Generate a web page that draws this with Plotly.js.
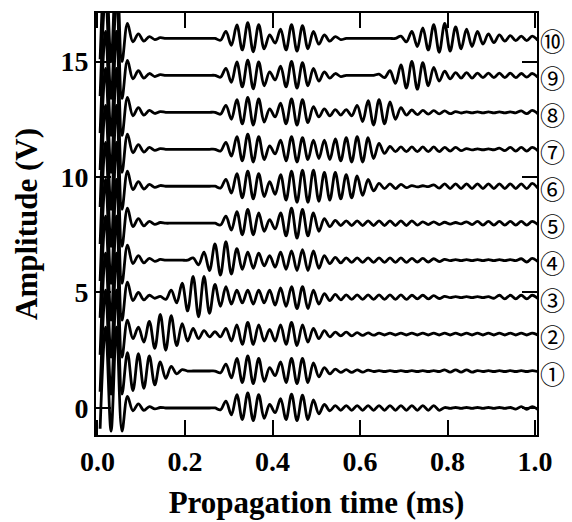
<!DOCTYPE html>
<html>
<head>
<meta charset="utf-8">
<script src="https://cdn.plot.ly/plotly-3.0.1.min.js"></script>
<style>html,body{margin:0;padding:0;background:#fff;}#chart{width:572px;height:522px;}</style>
</head>
<body>
<div id="chart"></div>
<script>
// sample times (ms) of the read-off extrema
var timeMs = [0.006,0.0185,0.031,0.0435,0.056,0.0685,0.081,0.0935,0.106,0.1185,0.131,0.1435,0.156,0.1685,0.181,0.1935,0.206,0.2185,0.231,0.2435,0.256,0.2685,0.281,0.2935,0.306,0.3185,0.331,0.3435,0.356,0.3685,0.381,0.3935,0.406,0.4185,0.431,0.4435,0.456,0.4685,0.481,0.4935,0.506,0.5185,0.531,0.5435,0.556,0.5685,0.581,0.5935,0.606,0.6185,0.631,0.6435,0.656,0.6685,0.681,0.6935,0.706,0.7185,0.731,0.7435,0.756,0.7685,0.781,0.7935,0.806,0.8185,0.831,0.8435,0.856,0.8685,0.881,0.8935,0.906,0.9185,0.931,0.9435,0.956,0.9685,0.981,0.9935,1.006];

// vertical offsets (V) of each waveform
var offsets = [0, 1.6, 3.2, 4.8, 6.4, 8.0, 9.6, 11.2, 12.8, 14.4, 16.0];
var labels = ['', '①', '②', '③', '④', '⑤', '⑥', '⑦', '⑧', '⑨', '⑩'];

// waveform amplitudes (V) relative to each baseline
var wave0 = [-0.9,3.5,-1.0,3.5,-1.0,0.5,-0.12,0.18,-0.1,0.06,-0.04,0.02,
  0,0,0,0,0,0,0,0,0,0,
  -0.08,0.3,-0.3,0.58,-0.5,0.65,-0.55,0.58,-0.45,0.15,-0.2,0.4,-0.5,0.6,-0.55,0.55,-0.5,0.35,-0.25,0.15,-0.12,0.1,-0.1,
  0.1,-0.1,0.1,-0.1,0.1,-0.1,0.1,-0.1,0.1,-0.1,0.1,-0.1,0.1,-0.1,0.1,-0.1,0.1,-0.1,
  0.02,-0.02,0.02,-0.02,0.02,-0.02,0.02,-0.02,0.02,-0.02,0.02,-0.02,0.02,
  -0.05,0.06,-0.06,0.06,-0.06];
var wave1 = [-0.9,3.5,-1.0,3.5,-1.0,
  0.8,-0.85,0.75,-0.75,0.65,-0.6,0.4,-0.32,0.2,-0.12,0.06,
  0,0,0,0,0,0,
  -0.08,0.3,-0.3,0.55,-0.5,0.65,-0.55,0.55,-0.45,0.15,-0.2,0.4,-0.5,0.55,-0.55,0.55,-0.5,0.35,-0.25,0.15,-0.12,0.08,-0.06,
  0.06,-0.06,0.05,-0.05,0.04,
  -0.02,0.02,-0.02,0.02,-0.02,0.02,-0.02,0.02,-0.02,0.02,-0.02,0.02,-0.02,
  0.05,-0.05,0.05,-0.05,0.05,-0.05,
  0.02,-0.02,0.02,-0.02,0.02,-0.02,0.02,-0.02,0.02,-0.02,0.02,-0.02];
var wave2 = [-0.9,3.5,-1.0,3.5,-1.0,
  0.6,-0.2,0.3,-0.35,0.55,-0.62,0.85,-0.7,0.8,-0.5,0.45,-0.3,0.25,-0.2,0.15,-0.12,0.1,-0.12,
  0.25,-0.3,0.4,-0.45,0.5,-0.45,0.4,-0.3,0.2,-0.3,0.4,-0.45,0.5,-0.5,0.4,-0.35,0.25,-0.2,0.15,-0.12,
  0.08,-0.08,0.08,-0.08,0.06,-0.06,0.05,-0.05,
  0.04,-0.04,0.04,-0.04,0.04,-0.04,0.04,-0.04,0.04,-0.04,0.04,-0.04,0.04,-0.04,0.04,
  -0.04,0.04,-0.04,0.04,-0.04,0.04,-0.04,0.04,-0.04,0.04,-0.04,0.04,-0.04,0.04,-0.04];
var wave3 = [-0.9,3.5,-1.0,3.5,-1.0,0.65,-0.15,0.2,-0.12,0.08,-0.05,0.03,
  -0.1,
  0.3,-0.25,0.6,-0.6,0.9,-0.85,0.9,-0.7,0.55,-0.4,0.45,-0.3,0.3,-0.25,0.3,-0.3,0.3,-0.25,0.3,-0.35,0.4,-0.4,0.45,-0.5,0.45,-0.5,0.3,-0.3,0.15,
  -0.15,0.12,-0.12,0.1,-0.1,0.1,-0.1,0.1,-0.1,0.1,-0.1,0.1,-0.1,0.1,-0.1,0.08,-0.08,0.08,-0.08,0.06,-0.06,
  0.03,-0.02,0.02,-0.02,0.02,-0.02,0.02,-0.02,0.02,-0.05,0.08,-0.08,0.08,-0.08,0.08,-0.08,0.08,-0.06];
var wave4 = [-0.9,3.5,-1.0,3.5,-1.0,0.65,-0.15,0.2,-0.12,0.08,-0.05,0.03,
  0,0,0,0,0,
  0.1,-0.2,0.35,-0.45,0.7,-0.65,0.8,-0.6,0.5,-0.4,0.35,-0.35,0.3,-0.25,0.2,-0.3,0.35,-0.4,0.4,-0.45,0.45,-0.45,0.4,-0.35,0.2,-0.15,0.12,-0.12,
  0.1,-0.1,0.1,-0.1,0.1,-0.1,0.1,-0.1,0.1,-0.1,0.1,-0.1,0.08,-0.08,0.08,-0.08,0.06,-0.06,
  0.03,-0.02,0.02,-0.02,0.02,-0.02,0.02,-0.02,0.02,-0.02,0.02,-0.02,0.02,-0.02,
  0.06,-0.08,0.08,-0.06];
var wave5 = [-0.9,3.5,-1.0,3.5,-1.0,0.65,-0.15,0.2,-0.12,0.08,-0.05,0.03,
  0,0,0,0,0,0,0,0,0,0,
  -0.08,0.3,-0.3,0.5,-0.5,0.6,-0.5,0.45,-0.35,0.15,-0.25,0.45,-0.55,0.65,-0.65,0.6,-0.55,0.45,-0.35,0.2,-0.15,0.12,-0.1,
  0.1,-0.1,0.1,-0.1,0.1,-0.1,0.1,-0.1,0.1,-0.1,0.1,-0.1,0.1,-0.08,0.06,-0.06,0.06,-0.06,
  0.04,-0.04,0.03,-0.03,0.06,-0.06,0.08,-0.08,0.08,-0.08,0.08,-0.08,0.08,-0.08,0.08,-0.08,0.08,-0.06];
var wave6 = [-0.9,3.5,-1.0,3.5,-1.0,0.65,-0.15,0.2,-0.12,0.08,-0.05,0.03,
  0,0,0,0,0,0,0,0,0,0,
  -0.08,0.3,-0.3,0.55,-0.5,0.65,-0.55,0.55,-0.45,0.2,-0.35,0.5,-0.6,0.65,-0.7,0.7,-0.7,0.7,-0.65,0.6,-0.6,0.6,-0.55,0.5,-0.5,0.45,-0.4,0.3,-0.2,
  0.12,-0.1,0.1,-0.1,0.08,-0.06,0.03,-0.03,0.02,-0.02,
  0.06,-0.08,0.1,-0.1,0.1,-0.1,0.1,-0.1,0.1,-0.1,0.1,-0.1,0.1,-0.1,0.1,-0.1,0.1,-0.1,0.12,-0.08];
var wave7 = [-0.9,3.5,-1.0,3.5,-1.0,0.65,-0.15,0.2,-0.12,0.08,-0.05,0.03,
  0,0,0,0,0,0,0,0,0,0,
  -0.08,0.3,-0.3,0.55,-0.5,0.65,-0.55,0.55,-0.45,0.15,-0.2,0.4,-0.5,0.55,-0.55,0.5,-0.45,0.4,-0.4,0.4,-0.45,0.45,-0.5,0.5,-0.55,0.55,-0.55,0.5,-0.4,0.25,-0.18,
  0.12,-0.1,0.1,-0.1,0.1,-0.1,0.1,-0.1,0.1,-0.1,0.08,-0.08,0.08,-0.06,
  0.03,-0.03,0.02,-0.02,0.02,-0.02,0.05,-0.06,0.08,-0.08,0.08,-0.08,0.08,-0.06];
var wave8 = [-0.9,3.5,-1.0,3.5,-1.0,0.65,-0.15,0.2,-0.12,0.08,-0.05,0.03,
  0,0,0,0,0,0,0,0,0,0,
  -0.08,0.3,-0.3,0.55,-0.5,0.65,-0.55,0.58,-0.42,0.15,-0.2,0.4,-0.5,0.58,-0.55,0.55,-0.45,0.25,-0.2,0.15,-0.15,0.12,-0.12,
  0.12,-0.15,0.3,-0.4,0.5,-0.55,0.55,-0.5,0.45,-0.3,0.2,-0.12,0.1,-0.1,0.08,-0.08,0.07,-0.07,0.06,-0.06,
  0.03,-0.03,0.02,-0.02,0.02,-0.02,0.02,-0.02,0.02,-0.02,0.02,-0.02,0.06,-0.06,0.08,-0.06];
var wave9 = [-0.9,3.5,-1.0,3.5,-1.0,0.65,-0.15,0.2,-0.12,0.08,-0.05,0.03,
  0,0,0,0,0,0,0,0,0,0,
  -0.08,0.3,-0.3,0.58,-0.5,0.66,-0.58,0.58,-0.45,0.15,-0.2,0.4,-0.5,0.6,-0.55,0.55,-0.45,0.3,-0.25,0.15,-0.12,0.08,-0.05,
  0,0,0,0,0,0,
  0.05,-0.1,0.2,-0.35,0.45,-0.55,0.6,-0.6,0.55,-0.45,0.35,-0.25,0.18,-0.15,0.12,-0.12,0.12,-0.12,
  0.1,-0.1,0.1,-0.1,0.1,-0.1,0.1,-0.1,0.08,-0.08,0.08,-0.08];
var wave10 = [-0.9,3.5,-1.0,3.5,-1.0,0.65,-0.15,0.2,-0.12,0.08,-0.05,0.03,
  0,0,0,0,0,0,0,0,0,0,
  -0.08,0.3,-0.3,0.58,-0.5,0.68,-0.58,0.6,-0.45,0.15,-0.2,0.4,-0.5,0.6,-0.55,0.55,-0.45,0.3,-0.25,0.15,-0.12,0.08,-0.05,
  0,0,0,0,0,0,0,0,0,0,
  0.1,-0.15,0.3,-0.35,0.45,-0.5,0.6,-0.6,0.65,-0.55,0.5,-0.45,0.4,-0.35,0.3,-0.25,0.2,-0.18,0.15,-0.12,0.12,-0.1,0.1,-0.1,0.1,-0.08];

var waves = [wave0, wave1, wave2, wave3, wave4, wave5, wave6, wave7, wave8, wave9, wave10];

var xTickVals = [0, 0.2, 0.4, 0.6, 0.8, 1.0];
var xTickText = ['0.0', '0.2', '0.4', '0.6', '0.8', '1.0'];
var yTickVals = [0, 5, 10, 15];
var yTickText = ['0', '5', '10', '15'];

var traces = waves.map(function (w, i) {
  return {
    x: timeMs,
    y: w.map(function (v) { return v + offsets[i]; }),
    type: 'scatter',
    mode: 'lines',
    line: {color: '#000', width: 2.8, shape: 'spline', smoothing: 1},
    hoverinfo: 'skip'
  };
});

var serif = 'Liberation Serif, Times New Roman, serif';
var annotations = [];
for (var i = 1; i < offsets.length; i++) {
  annotations.push({
    xref: 'paper', yref: 'y', x: 1.036, y: offsets[i], xanchor: 'center', yanchor: 'middle',
    yshift: -2,
    text: labels[i], showarrow: false,
    font: {family: 'Noto Sans CJK JP, DejaVu Sans, sans-serif', size: 25, color: '#000'}
  });
}

var layout = {
  width: 572, height: 522,
  margin: {l: 96, r: 35, t: 13, b: 87},
  paper_bgcolor: '#fff', plot_bgcolor: '#fff',
  showlegend: false,
  xaxis: {
    range: [-0.0034, 1.0045],
    tickvals: xTickVals, ticktext: xTickText,
    ticks: 'inside', ticklen: 15, tickwidth: 2, tickcolor: '#000',
    showline: true, linewidth: 2, linecolor: '#000', mirror: 'ticks',
    showgrid: false, zeroline: false,
    tickfont: {family: serif, size: 28, color: '#000', weight: 'bold'},
    title: {text: 'Propagation time (ms)', font: {family: serif, size: 31, color: '#000', weight: 'bold'}, standoff: 16}
  },
  yaxis: {
    range: [-1.17, 17.1],
    tickvals: yTickVals, ticktext: yTickText,
    ticks: 'inside', ticklen: 15, tickwidth: 2, tickcolor: '#000',
    showline: true, linewidth: 2, linecolor: '#000', mirror: 'ticks',
    showgrid: false, zeroline: false,
    tickfont: {family: serif, size: 28, color: '#000', weight: 'bold'},
    title: {text: 'Amplitude (V)', font: {family: serif, size: 31, color: '#000', weight: 'bold'}, standoff: 14}
  },
  annotations: annotations
};

Plotly.newPlot('chart', traces, layout, {staticPlot: true, displayModeBar: false});
</script>
</body>
</html>
